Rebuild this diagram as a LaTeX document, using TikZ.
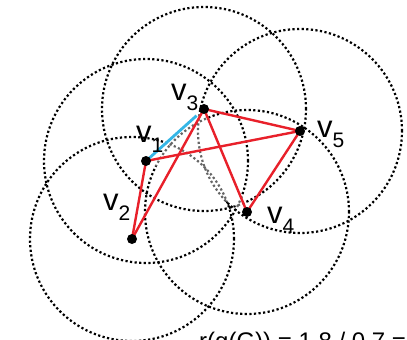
\documentclass[tikz,border=0pt]{standalone}
\usepackage{fontspec}
\setmainfont{Liberation Sans}
\definecolor{edgered}{RGB}{232,32,42}
\definecolor{edgeblue}{RGB}{52,182,230}
\begin{document}
\begin{tikzpicture}[x=1pt,y=-1pt,
  rng/.style={draw=black, line width=2.2pt, dash pattern=on 2.2pt off 2.4pt},
  vtx/.style={circle, fill=black, inner sep=0pt, minimum size=10pt},
  redge/.style={draw=edgered, line width=2.4pt},
  bedge/.style={draw=edgeblue, line width=2.8pt},
  lbl/.style={inner sep=0pt, anchor=base west},
]
\useasboundingbox (0,0) rectangle (407,340);
\coordinate (v1) at (146,161);
\coordinate (v2) at (132,239);
\coordinate (v3) at (204,109);
\coordinate (v4) at (247,212);
\coordinate (v5) at (300,131);
\foreach \c in {v1,v2,v3,v4,v5} \draw[rng] (\c) circle[radius=102pt];
\fill[white, opacity=0.4] (v1) -- (v3) -- (v4) -- cycle;
\draw[redge] (v1) -- (v2);
\draw[redge] (v1) -- (v5);
\draw[redge] (v2) -- (v3);
\draw[redge] (v3) -- (v4);
\draw[redge] (v3) -- (v5);
\draw[redge] (v4) -- (v5);
\draw[bedge, shorten >=10pt] (v1) -- (v3);
\foreach \c in {v1,v2,v3,v4,v5} \node[vtx] (d\c) at (\c) {};
\newcommand{\vlab}[1]{{\fontsize{31}{31}\selectfont v}\raisebox{-10pt}{\fontsize{21}{21}\selectfont #1}}
\node[lbl] (l1) at (136,142) {\vlab{1}};
\node[lbl] (l2) at (103,210) {\vlab{2}};
\node[lbl] (l3) at (171,100) {\vlab{3}};
\node[lbl] (l4) at (267,223) {\vlab{4}};
\node[lbl] (l5) at (317,137) {\vlab{5}};
\node[lbl, font=\fontsize{24}{24}\selectfont] (ratio) at (199,349) {r(g(G)) = 1.8 / 0.7 =};
\end{tikzpicture}
\end{document}
